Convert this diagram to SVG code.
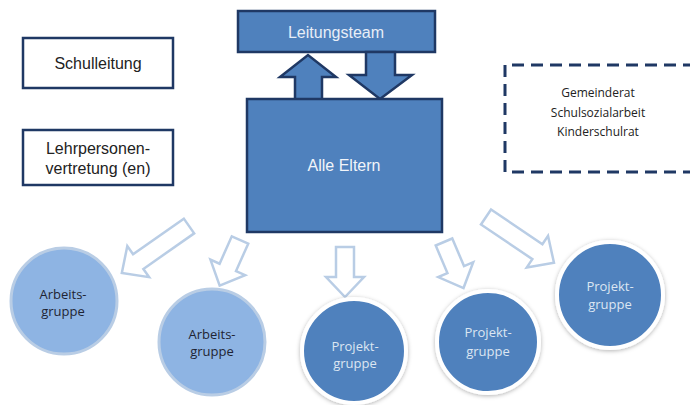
<svg xmlns="http://www.w3.org/2000/svg" width="690" height="405" viewBox="0 0 690 405">
<defs>
<style>
.box{fill:#4F81BD;stroke:#1F3864;stroke-width:2.5}
.wbox{fill:#fff;stroke:#1F3864;stroke-width:2.5}
.dash{fill:none;stroke:#1F3864;stroke-width:3;stroke-dasharray:12,7}
.ar{font-family:"Liberation Sans",Arial,sans-serif;font-size:16px;text-anchor:middle}
.cal{font-family:"Open Sans","Noto Sans",sans-serif;text-anchor:middle}
.ag{fill:#8EB4E3;stroke:#B9CDE5;stroke-width:3}
.pg{fill:#4F81BD;stroke:#fff;stroke-width:4;filter:url(#sh)}
.hollow{fill:#fff;stroke:#B9CDE5;stroke-width:2.5;stroke-linejoin:miter}
.solid{fill:#4F81BD;stroke:#1F3864;stroke-width:2.5}
</style>
<filter id="sh" x="-20%" y="-20%" width="140%" height="140%">
<feDropShadow dx="0" dy="1" stdDeviation="2" flood-color="#000" flood-opacity="0.3"/>
</filter>
<path id="longA" d="M0,-9 L62,-9 L62,-19 L82,0 L62,19 L62,9 L0,9 Z"/>
<path id="shortA" d="M0,-9 L30,-9 L30,-19 L50,0 L30,19 L30,9 L0,9 Z"/>
</defs>
<rect width="690" height="405" fill="#fff"/>

<g id="leitungsteam">
<rect class="box" x="238" y="11" width="197" height="41"/>
<text class="ar" x="336" y="38" fill="#E8EEF7">Leitungsteam</text>
</g>

<g id="connectors">
<path class="solid" d="M295,100 L295,77 L280,77 L308,55 L336,77 L322,77 L322,100 Z"/>
<path class="solid" d="M366,52 L395,52 L395,75 L412,75 L380,99 L349,75 L366,75 Z"/>
<use href="#longA" class="hollow" transform="translate(189,226) rotate(145)"/>
<use href="#shortA" class="hollow" transform="translate(240,240) rotate(114)"/>
<use href="#shortA" class="hollow" transform="translate(345,247) rotate(90)"/>
<use href="#shortA" class="hollow" transform="translate(444,242) rotate(67)"/>
<use href="#longA" class="hollow" transform="translate(486,217) rotate(34)"/>
</g>

<g id="alle-eltern">
<rect class="box" x="247" y="99" width="195" height="133"/>
<text class="ar" x="344" y="171" fill="#F2F5FA">Alle Eltern</text>
</g>

<g id="schulleitung">
<rect class="wbox" x="23" y="38" width="150" height="50"/>
<text class="ar" x="98" y="69" fill="#222">Schulleitung</text>
</g>

<g id="lehrpersonen">
<rect class="wbox" x="23" y="130" width="150" height="55"/>
<text class="ar" x="98" y="154" fill="#222">Lehrpersonen-</text>
<text class="ar" x="98" y="174" fill="#222">vertretung (en)</text>
</g>

<g id="extern">
<path class="dash" d="M695,65 L505,65 L505,172 L695,172"/>
<text class="cal" x="598" y="97" font-size="12" fill="#222">Gemeinderat</text>
<text class="cal" x="598" y="117" font-size="12" fill="#222">Schulsozialarbeit</text>
<text class="cal" x="598" y="136" font-size="12" fill="#222">Kinderschulrat</text>
</g>

<g id="arbeitsgruppe1">
<circle class="ag" cx="64" cy="301" r="53"/>
<text class="cal" x="63" y="299" font-size="13" fill="#1F2433">Arbeits-</text>
<text class="cal" x="63" y="316" font-size="13" fill="#1F2433">gruppe</text>
</g>

<g id="arbeitsgruppe2">
<circle class="ag" cx="212" cy="342" r="53"/>
<text class="cal" x="212" y="339" font-size="13" fill="#1F2433">Arbeits-</text>
<text class="cal" x="212" y="356" font-size="13" fill="#1F2433">gruppe</text>
</g>

<g id="projektgruppe1">
<circle class="pg" cx="354" cy="351" r="52"/>
<text class="cal" x="355" y="351" font-size="13" fill="#DCE6F2">Projekt-</text>
<text class="cal" x="355" y="368" font-size="13" fill="#DCE6F2">gruppe</text>
</g>

<g id="projektgruppe2">
<circle class="pg" cx="488" cy="342" r="51"/>
<text class="cal" x="488" y="337" font-size="13" fill="#DCE6F2">Projekt-</text>
<text class="cal" x="488" y="356" font-size="13" fill="#DCE6F2">gruppe</text>
</g>

<g id="projektgruppe3">
<circle class="pg" cx="610" cy="295" r="53"/>
<text class="cal" x="610" y="291" font-size="13" fill="#DCE6F2">Projekt-</text>
<text class="cal" x="610" y="309" font-size="13" fill="#DCE6F2">gruppe</text>
</g>
</svg>
